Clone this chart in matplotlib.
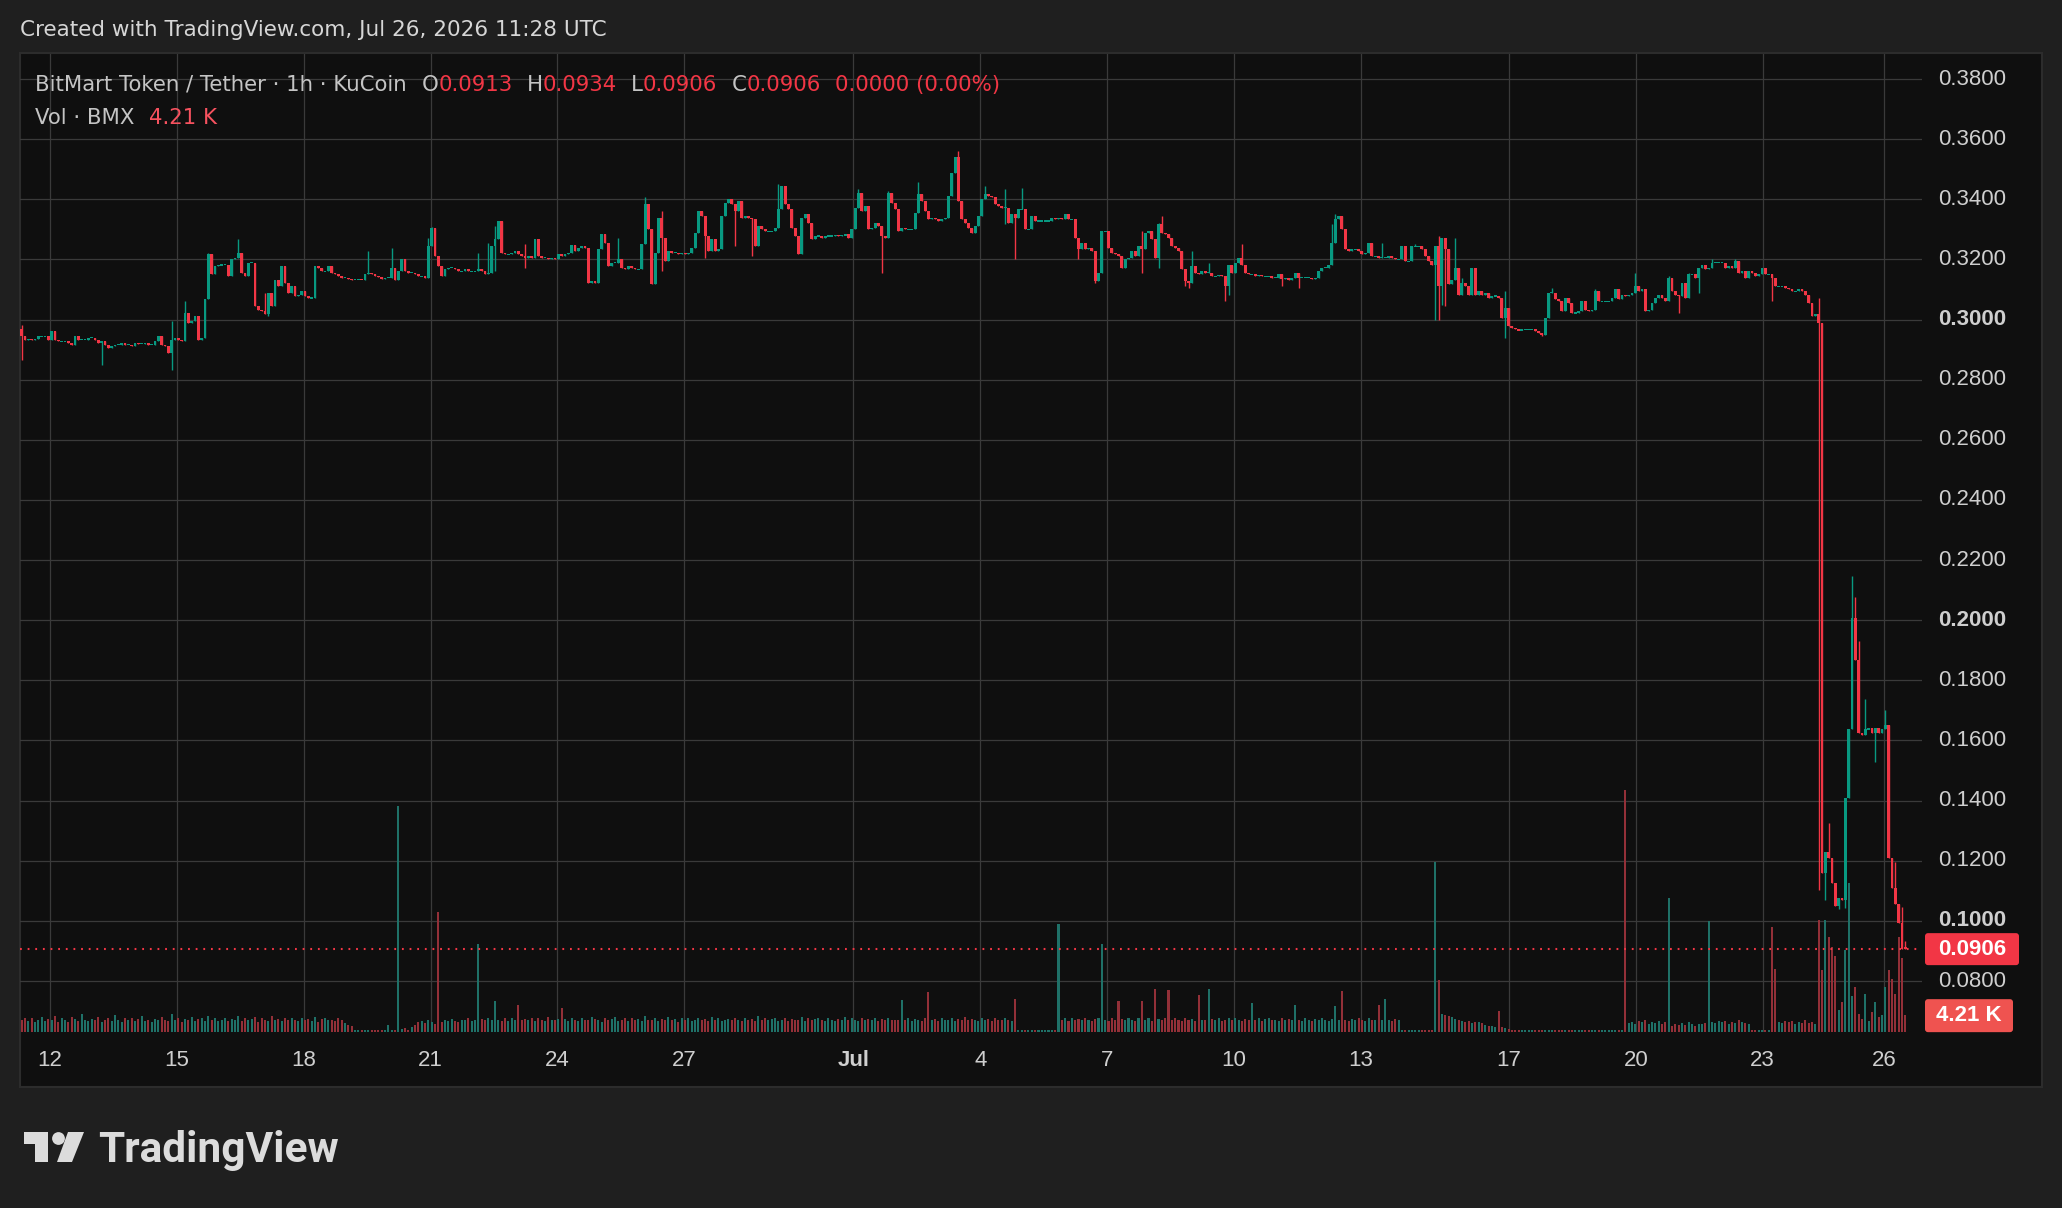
import numpy as np
import matplotlib
matplotlib.use("Agg")
import matplotlib.pyplot as plt
from matplotlib.patches import Rectangle, Circle, Polygon, FancyBboxPatch
from matplotlib.lines import Line2D
from matplotlib.transforms import Affine2D, blended_transform_factory, IdentityTransform

plt.rcParams['font.family'] = ['DejaVu Sans']
plt.rcParams['lines.scale_dashes'] = False

# ---------------- data (prices in units of 0.0001 USDT, ~2h bars) ----------------
close_jun11_jun20 = [
    2944, 2933, 2936, 2933, 2936, 2944, 2944, 2944, 2933, 2961,
    2933, 2928, 2928, 2928, 2922, 2917, 2944, 2933, 2933, 2933,
    2939, 2939, 2933, 2922, 2928, 2917, 2906, 2911, 2917, 2917,
    2922, 2917, 2917, 2911, 2922, 2920, 2920, 2922, 2917, 2917,
    2928, 2944, 2917, 2911, 2889, 2933, 2939, 2933, 2928, 3022,
    2989, 2994, 3011, 2933, 2939, 3067, 3217, 3150, 3178, 3180,
    3183, 3183, 3144, 3200, 3206, 3222, 3156, 3144, 3189, 3189,
    3044, 3033, 3028, 3017, 3089, 3044, 3133, 3111, 3178, 3122,
    3089, 3111, 3078, 3083, 3094, 3078, 3072, 3072, 3178, 3172,
    3161, 3161, 3178, 3156, 3150, 3144, 3139, 3139, 3136, 3133,
    3133, 3133, 3131, 3150, 3156, 3150, 3144, 3142, 3136, 3139,
    3139, 3172, 3133, 3161, 3200, 3161, 3156, 3156, 3150, 3144,
    3144, 3139, 3244, 3306, 3211, 3178, 3144, 3167, 3172, 3172,
    3167, 3161, 3161, 3167, 3161, 3161, 3161, 3167, 3161, 3150,
    3156, 3244, 3267, 3328]
close_jun21_jul02 = [
    3222, 3217, 3217, 3222, 3228, 3217, 3211, 3206, 3211, 3206,
    3267, 3211, 3206, 3206, 3200, 3206, 3200, 3217, 3211, 3217,
    3222, 3247, 3228, 3239, 3244, 3239, 3122, 3128, 3122, 3233,
    3283, 3256, 3178, 3189, 3189, 3200, 3172, 3167, 3178, 3172,
    3167, 3167, 3250, 3383, 3300, 3117, 3222, 3339, 3272, 3194,
    3228, 3222, 3222, 3217, 3222, 3217, 3222, 3239, 3289, 3361,
    3344, 3278, 3228, 3267, 3228, 3233, 3344, 3389, 3400, 3383,
    3361, 3394, 3339, 3344, 3339, 3333, 3244, 3311, 3300, 3294,
    3294, 3294, 3306, 3367, 3444, 3383, 3367, 3306, 3278, 3217,
    3339, 3350, 3322, 3267, 3278, 3278, 3272, 3278, 3278, 3278,
    3280, 3278, 3280, 3283, 3272, 3300, 3372, 3422, 3361, 3378,
    3300, 3306, 3322, 3311, 3278, 3272, 3422, 3389, 3367, 3294,
    3306, 3300, 3300, 3300, 3356, 3417, 3394, 3361, 3333, 3339,
    3333, 3328, 3333, 3339, 3411, 3489, 3539, 3394, 3333, 3322,
    3306, 3289, 3311, 3344]
close_jul03_jul14 = [
    3400, 3417, 3411, 3406, 3383, 3378, 3372, 3372, 3322, 3350,
    3339, 3367, 3367, 3300, 3300, 3344, 3328, 3328, 3328, 3328,
    3328, 3339, 3333, 3339, 3333, 3350, 3333, 3333, 3272, 3233,
    3256, 3233, 3239, 3228, 3128, 3156, 3294, 3294, 3239, 3222,
    3217, 3211, 3172, 3200, 3206, 3228, 3211, 3244, 3233, 3289,
    3294, 3267, 3206, 3317, 3289, 3283, 3272, 3244, 3239, 3228,
    3167, 3128, 3122, 3178, 3156, 3150, 3161, 3156, 3156, 3144,
    3144, 3147, 3144, 3111, 3183, 3156, 3189, 3206, 3183, 3156,
    3150, 3150, 3144, 3147, 3144, 3144, 3144, 3139, 3139, 3150,
    3136, 3139, 3133, 3139, 3156, 3139, 3139, 3139, 3139, 3136,
    3139, 3161, 3172, 3172, 3183, 3256, 3333, 3344, 3300, 3233,
    3228, 3233, 3233, 3228, 3217, 3222, 3256, 3211, 3211, 3206,
    3206, 3206, 3211, 3206, 3200, 3200, 3244, 3194, 3194, 3244,
    3244, 3244, 3233, 3211, 3194, 3183, 3244, 3111]
close_jul15_jul24 = [
    3272, 3233, 3117, 3133, 3172, 3083, 3122, 3111, 3083, 3172,
    3083, 3094, 3083, 3089, 3072, 3078, 3078, 3072, 3006, 3039,
    2978, 2972, 2967, 2964, 2967, 2967, 2967, 2967, 2961, 2956,
    2950, 3006, 3089, 3089, 3067, 3061, 3028, 3072, 3056, 3022,
    3022, 3028, 3061, 3033, 3028, 3033, 3094, 3061, 3061, 3061,
    3061, 3072, 3100, 3067, 3083, 3078, 3083, 3089, 3111, 3094,
    3100, 3028, 3033, 3056, 3072, 3083, 3072, 3061, 3139, 3094,
    3083, 3078, 3122, 3072, 3150, 3150, 3139, 3172, 3183, 3167,
    3172, 3189, 3189, 3189, 3189, 3172, 3178, 3172, 3194, 3156,
    3161, 3139, 3161, 3156, 3144, 3150, 3172, 3150, 3150, 3139,
    3111, 3111, 3111, 3106, 3100, 3094, 3094, 3100, 3094, 3083,
    3056, 3011, 3017, 2989]
close_jul24_jul26 = [
    1159, 1229, 1210, 1127, 1051, 1076, 1070, 1408, 1637,
    2006, 1866, 1624, 1618, 1637, 1640, 1624, 1643, 1624, 1637,
    1650, 1210, 1108, 1055, 994, 906, 906]

first_open = 2967
last_ohlc = [913, 934, 906, 906]

# wick extremes (bar index: price) where the wick leaves the body
wick_high = {0: 2983, 45: 2994, 49: 3061, 56: 3222, 65: 3267, 73: 3089, 104: 3228,
             111: 3239, 122: 3272, 123: 3309, 137: 3222, 140: 3256, 142: 3311,
             151: 3250, 179: 3272, 187: 3409, 192: 3361, 227: 3450, 251: 3433,
             260: 3428, 269: 3456, 281: 3561, 289: 3444, 295: 3433, 300: 3439,
             336: 3294, 341: 3322, 342: 3344, 351: 3228, 356: 3189, 366: 3250,
             393: 3317, 394: 3350, 408: 3256, 414: 3244, 418: 3250, 425: 3278,
             430: 3272, 432: 3139, 445: 3094, 459: 3106, 472: 3100, 484: 3156,
             494: 3144, 500: 3156, 507: 3200, 514: 3200, 539: 3072,
             542: 1325, 549: 2146, 550: 2076, 551: 1930, 553: 1739, 559: 1701,
             562: 1197, 564: 1046}
wick_low = {0: 2867, 24: 2850, 45: 2833, 74: 3011, 142: 3161, 151: 3172, 192: 3161,
            205: 3206, 214: 3244, 219: 3211, 258: 3156, 295: 3317, 298: 3200,
            317: 3200, 322: 3122, 336: 3156, 341: 3172, 349: 3111, 350: 3106,
            361: 3061, 362: 3083, 378: 3111, 383: 3106, 424: 3000, 425: 3000,
            426: 3050, 427: 3044, 445: 2939, 456: 2944, 497: 3022, 503: 3089,
            525: 3061, 539: 1102, 541: 1070, 545: 1040, 547: 1044, 556: 1529}

# volume in units of 0.1K BMX
vol_jun = [30, 34, 28, 36, 25, 31, 38, 27, 33, 29, 40, 26, 35, 30, 24, 37, 32, 28, 45, 30,
           27, 33, 29, 38, 26, 31, 35, 28, 42, 30, 25, 34, 29, 36, 27, 32, 39, 28, 30, 26,
           33, 29, 37, 31, 27, 44, 30, 35, 26, 32, 29, 38, 27, 33, 36, 28, 41, 30, 34, 27,
           31, 36, 28, 33, 30, 39, 27, 34, 29, 32, 37, 26, 35, 30, 28, 40, 31, 33, 27, 35,
           29, 34, 31, 27, 36, 30, 33, 28, 38, 26, 32, 35, 29, 31, 27, 34, 30, 22, 18, 14,
           5, 4, 5, 4, 6, 5, 4, 5, 4, 5, 18, 5, 4,
           565,
           8, 10, 6, 12, 18, 25, 28, 22, 30, 26, 20,
           300,
           24, 30, 27, 33, 28, 25, 31, 29, 35, 27, 30,
           220,
           33, 29, 36, 30, 78, 31, 28, 34, 27, 36, 30, 68, 29, 33, 31, 36, 28, 34, 30, 27, 38, 31, 29, 33,
           60]
vol_jul_a = [32, 28, 36, 30, 27, 34, 31, 29, 38, 33,
             30, 26, 35, 29, 32, 37, 28, 31, 34, 27,
             36, 30, 33, 28, 40, 31, 29, 35, 27, 32,
             30, 38, 29, 33, 26, 34, 31, 36, 28, 30,
             35, 29, 32, 27, 37, 31, 34, 28, 30, 33,
             29, 36, 31, 27, 35, 30, 33, 28, 39, 31,
             34, 29, 32, 36, 28, 30, 35, 27, 33, 31,
             30, 37, 28, 34, 29, 32, 36, 30, 27, 35,
             31, 28, 33, 30, 38, 29, 34, 31, 27, 36,
             30, 33, 29, 35, 28, 32, 30, 34, 31, 29,
             30,
             80,
             30, 34, 28, 33, 31, 27, 35,
             100,
             30, 33, 28, 36, 31, 29, 34, 27, 32, 30, 37, 29, 33, 31, 28, 35, 30, 32, 27, 34, 31, 29, 36, 30, 28,
             83,
             5, 4, 5, 4, 5, 4, 5, 5, 4, 5, 4, 6,
             270]
vol_jul_b = [30, 34, 28, 36, 31, 33, 29, 35, 30, 27, 32, 36,
             220, 30, 28, 34, 31, 78, 33, 29, 36, 30, 27, 34,
             78, 31, 35, 28, 108, 33, 30, 36, 105,
             29, 34, 31, 27, 36, 30, 33, 28, 93, 31, 29, 108,
             33, 30, 36, 28, 31, 34, 29, 35, 30, 27, 33, 31, 73,
             30, 34, 28, 32, 36, 29, 31, 27, 35, 30, 33, 29, 68,
             31, 28, 34, 30, 27, 33, 29, 36, 30, 28, 32, 65, 30, 103,
             30, 27, 33, 29, 35, 31, 28, 34, 30, 29, 68, 31, 83,
             30, 28, 33, 29,
             5, 4, 5, 4, 5, 6, 4, 5, 4, 5,
             425, 130]
vol_jul_c = [45, 42, 40, 38, 33, 30, 28,
             25, 27, 23, 26, 24, 22, 18, 15, 14, 12,
             53, 12, 10, 8,
             4, 5, 4, 4, 5, 4, 4, 5, 4, 4, 5, 4, 4, 4, 5, 4, 4, 5, 4, 4, 5, 4, 4, 4, 5, 4, 4, 5, 4, 4, 5, 4, 4, 5,
             605,
             22, 25, 20, 28, 24, 30, 21, 26, 23, 27, 19, 25,
             335,
             15, 20, 18, 22, 17, 24, 20, 16, 21, 19, 23,
             278,
             25, 22, 28, 24, 27, 21, 26, 23, 29, 25, 22, 20,
             5, 4, 5, 4, 5, 4,
             263, 158,
             25, 22, 28, 24, 27, 20, 26, 23, 29, 22, 25, 21]
vol_crash = [280, 155, 280, 238, 213, 190, 55, 75, 205, 373, 90, 113, 45, 33, 95,
             28, 50, 75, 38, 43, 113, 155, 133, 95, 238, 185, 42.1]

price_ticks = [0.08, 0.10, 0.12, 0.14, 0.16, 0.18, 0.20, 0.22, 0.24, 0.26, 0.28, 0.30,
               0.32, 0.34, 0.36, 0.38]
bold_ticks = [0.10, 0.20, 0.30]
date_labels = ['12', '15', '18', '21', '24', '27', 'Jul', '4', '7', '10', '13', '17', '20', '23', '26']
date_hours = [0, 72, 144, 216, 288, 360, 456, 528, 600, 672, 744, 828, 900, 972, 1041]

# ---------------- assemble ----------------
close = np.array(close_jun11_jun20 + close_jun21_jul02 + close_jul03_jul14 +
                 close_jul15_jul24 + close_jul24_jul26, dtype=float) / 1e4
vol = np.array(vol_jun + vol_jul_a + vol_jul_b + vol_jul_c + vol_crash, dtype=float) / 10.0
n = min(len(close), len(vol))
if len(close) != len(vol):
    print("length mismatch", len(close), len(vol))
close = close[:n]
vol = vol[:n]
opn = np.r_[first_open / 1e4, close[:-1]]
opn[-1] = last_ohlc[0] / 1e4
hi = np.maximum(opn, close)
lo = np.minimum(opn, close)
for k, v in wick_high.items():
    if k < n:
        hi[k] = max(hi[k], v / 1e4)
for k, v in wick_low.items():
    if k < n:
        lo[k] = min(lo[k], v / 1e4)
hi[-1] = max(hi[-1], last_ohlc[1] / 1e4)
lo[-1] = min(lo[-1], last_ohlc[2] / 1e4)

bar_step_h = 1.892
first_bar_h = -16.06
x = first_bar_h + bar_step_h * np.arange(n)
up = close >= opn

UP, DN = '#089981', '#f23645'
VUP, VDN = '#1f7168', '#933038'

# ---------------- figure ----------------
W, H = 2062, 1208
fig = plt.figure(figsize=(W / 100, H / 100), dpi=100, facecolor='#1f1f1f')
T = Affine2D().scale(1, -1).translate(0, H)   # top-left pixel coords

fig.add_artist(Rectangle((20, 53), 2022, 1034, transform=T, facecolor='#0f0f0f',
                         edgecolor='#2c2c2c', linewidth=1.5, zorder=-5))

left, right, top, bottom = 20, 1922, 54, 1032
rect = [left / W, 1 - bottom / H, (right - left) / W, (bottom - top) / H]
ax_v = fig.add_axes(rect)
ax = fig.add_axes(rect)
for a in (ax_v, ax):
    a.set_xlim(-17.0, 1062.4)
    a.axis('off')
ax.set_ylim(0.06304, 0.38832)
ax_v.set_ylim(0, (bottom - top) * 0.25)

grid_c = '#3a3a3a'
yblend = blended_transform_factory(ax_v.transData, ax.transData)
for p in price_ticks:
    ax_v.add_line(Line2D([-17.0, 1062.4], [p, p], color=grid_c, lw=0.9, transform=yblend, zorder=0))
for h in date_hours:
    ax_v.axvline(h, color=grid_c, lw=0.9, zorder=0)

# volume
ax_v.bar(x, vol, width=1.15, color=np.where(up, VUP, VDN), linewidth=0, zorder=2)

# candles
ax.vlines(x, lo, hi, colors=np.where(up, UP, DN), linewidth=1.0, zorder=3)
body_h = np.maximum(np.abs(close - opn), 0.0004)
body_b = np.where(np.abs(close - opn) < 0.0004, (opn + close) / 2 - 0.0002, np.minimum(opn, close))
ax.bar(x, body_h, bottom=body_b, width=1.6, color=np.where(up, UP, DN), linewidth=0, zorder=4)

last_close = close[-1]
ax.axhline(last_close, color=DN, lw=1.5, linestyle=(0, (1.3, 4.2)), zorder=5)

# price axis labels
xb = blended_transform_factory(IdentityTransform(), ax.transData)
lab_c = '#cfcfcf'
for p in price_ticks:
    bold = any(abs(p - b) < 1e-9 for b in bold_ticks)
    ax.text(1938, p, f"{p:.4f}", transform=xb, ha='left', va='center', color=lab_c,
            fontsize=16, fontweight='bold' if bold else 'normal', family='Liberation Sans',
            clip_on=False)

# last price box and volume box
y_last = H - ax.transData.transform((0, last_close))[1]
fig.add_artist(FancyBboxPatch((1925, y_last - 16), 94, 32, boxstyle='round,pad=0,rounding_size=3',
                              transform=T, facecolor=DN, edgecolor='none', zorder=6))
fig.text(1972, y_last, f"{last_close:.4f}", transform=T, ha='center', va='center', color='white',
         fontsize=16, fontweight='bold', family='Liberation Sans', zorder=7)
y_vol = H - ax_v.transData.transform((0, vol[-1]))[1]
fig.add_artist(FancyBboxPatch((1925, y_vol - 16), 88, 33, boxstyle='round,pad=0,rounding_size=3',
                              transform=T, facecolor='#ef5350', edgecolor='none', zorder=6))
fig.text(1969, y_vol, f"{vol[-1]:.2f} K", transform=T, ha='center', va='center', color='white',
         fontsize=16, fontweight='bold', family='Liberation Sans', zorder=7)

# date labels
xblend = blended_transform_factory(ax.transData, T)
for h, s in zip(date_hours, date_labels):
    ax.text(h, 1061, s, transform=xblend, ha='center', va='center', color=lab_c, fontsize=16,
            fontweight='bold' if s == 'Jul' else 'normal', family='Liberation Sans', clip_on=False)

# header texts
fig.text(20, 30, "Created with TradingView.com, Jul 26, 2026 11:28 UTC", transform=T,
         ha='left', va='center', color='#d6d6d6', fontsize=15.5)

renderer = fig.canvas.get_renderer()


def chain(pieces, x0, y0):
    xx = x0
    for s, c, gap in pieces:
        t = fig.text(xx, y0, s, transform=T, ha='left', va='center', color=c, fontsize=15.3, zorder=8)
        bb = t.get_window_extent(renderer)
        xx = bb.x1 + gap


gray = '#c4c4c4'
o, hh, l, c = [v / 1e4 for v in last_ohlc]
chg = last_close - close[-2]
pct = chg / close[-2] * 100
chain([("BitMart Token / Tether · 1h · KuCoin", gray, 15),
       ("O", gray, 0), (f"{o:.4f}", DN, 14),
       ("H", gray, 0), (f"{hh:.4f}", DN, 14),
       ("L", gray, 0), (f"{l:.4f}", DN, 14),
       ("C", gray, 0), (f"{c:.4f}", DN, 14),
       (f"{abs(chg):.4f} ({abs(pct):.2f}%)", DN, 0)], 35, 85)
chain([("Vol · BMX", gray, 15), (f"{vol[-1]:.2f} K", '#f7525f', 0)], 35, 118)

# TradingView logo
logo_c = '#dcdcdc'
fig.add_artist(Polygon([(24, 1132), (48, 1132), (48, 1162), (35, 1162), (35, 1144), (24, 1144)],
                       closed=True, transform=T, facecolor=logo_c, edgecolor='none'))
fig.add_artist(Circle((58.5, 1138.5), 6.4, transform=T, facecolor=logo_c, edgecolor='none'))
fig.add_artist(Polygon([(68, 1132), (84, 1132), (72, 1162), (57, 1162)],
                       closed=True, transform=T, facecolor=logo_c, edgecolor='none'))
fig.text(98, 1162, "TradingView", transform=T, ha='left', va='baseline', color=logo_c,
         fontsize=30.5, fontweight='bold', family='Roboto')

fig.savefig("out.png", dpi=100, facecolor=fig.get_facecolor())
